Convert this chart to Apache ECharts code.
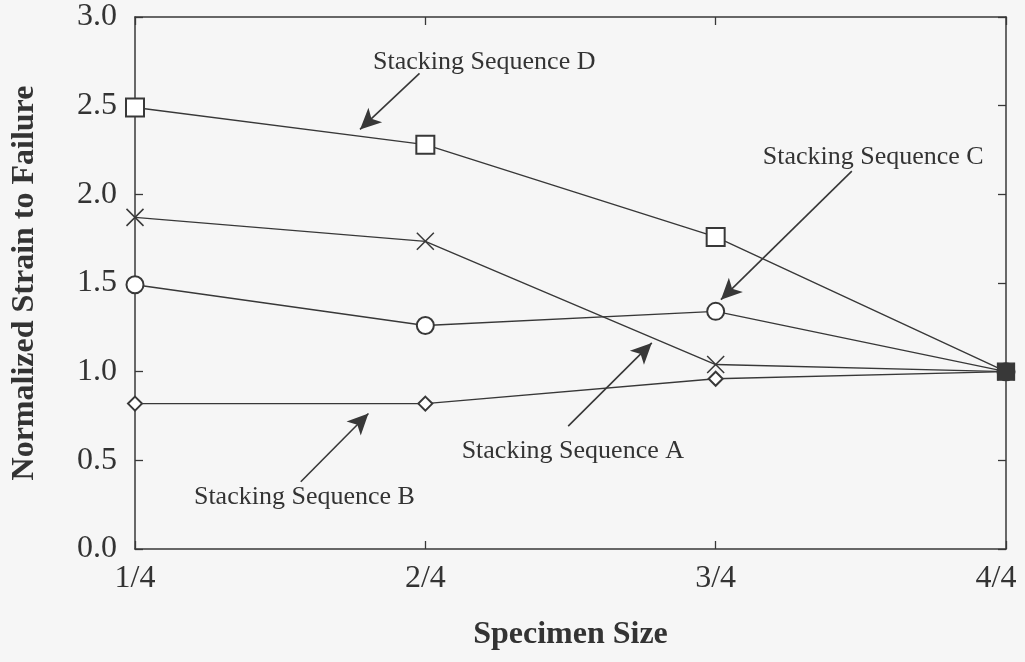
<!DOCTYPE html>
<html>
<head>
<meta charset="utf-8">
<script src="https://cdn.jsdelivr.net/npm/echarts@6/dist/echarts.min.js"></script>
<style>
  html, body { margin: 0; padding: 0; background: #f6f6f6; }
  #chart { width: 1025px; height: 662px; }
</style>
</head>
<body>
<div id="chart"></div>
<script>
// Specimen sizes (x positions 1..4) and their tick labels
const sizes = [1, 2, 3, 4];
const sizeLabels = ['1/4', '2/4', '3/4', '4/4'];
const yTicks = [0, 0.5, 1.0, 1.5, 2.0, 2.5, 3.0];

// Normalized strain to failure for each stacking sequence
const seqA = [1.87, 1.735, 1.04, 1.0];
const seqB = [0.82, 0.82, 0.96, 1.0];
const seqC = [1.49, 1.26, 1.34, 1.0];
const seqD = [2.49, 2.28, 1.76, 1.0];

// Annotation labels: text anchor and arrow (from -> tip), in data units
const notes = [
  { text: 'Stacking Sequence D', at: [1.82, 2.744], from: [1.98, 2.682], to: [1.775, 2.366] },
  { text: 'Stacking Sequence C', at: [3.162, 2.208], from: [3.469, 2.131], to: [3.018, 1.406] },
  { text: 'Stacking Sequence A', at: [2.125, 0.552], from: [2.492, 0.693], to: [2.78, 1.162] },
  { text: 'Stacking Sequence B', at: [1.203, 0.293], from: [1.571, 0.379], to: [1.804, 0.764] }
];

const ink = '#383838';
const serif = '"Liberation Serif", "DejaVu Serif", serif';
const xMark = 'path://M0,0L10,10M10,0L0,10';

function pairs(vals) { return vals.map((v, i) => [sizes[i], v]); }

function lineSeries(name, vals, symbol, size, stroked) {
  return {
    name, type: 'line', data: pairs(vals),
    symbol, symbolSize: size,
    lineStyle: { color: ink, width: 1.4 },
    itemStyle: stroked
      ? { color: 'rgba(0,0,0,0)', borderColor: ink, borderWidth: 1.5 }
      : { color: ink, borderColor: ink, borderWidth: 1.3 },
    z: 3
  };
}

const chart = echarts.init(document.getElementById('chart'));

const series = [
  lineSeries('Stacking Sequence B', seqB, 'emptyDiamond', 14, false),
  lineSeries('Stacking Sequence C', seqC, 'emptyCircle', 17, false),
  lineSeries('Stacking Sequence A', seqA, xMark, 17, true),
  lineSeries('Stacking Sequence D', seqD, 'emptyRect', 18, false),
  {
    name: 'notes', type: 'line', data: [], silent: true,
    markLine: {
      silent: true, animation: false,
      symbol: ['none', 'arrow'], symbolSize: [15, 21],
      label: { show: false },
      lineStyle: { color: ink, width: 1.6, type: 'solid' },
      data: notes.map(n => [{ coord: n.from }, { coord: n.to }])
    },
    markPoint: {
      silent: true, animation: false,
      symbol: 'circle', symbolSize: 0,
      label: {
        show: true, position: [0, 0], align: 'left', verticalAlign: 'middle',
        fontFamily: serif, fontSize: 26, color: '#333',
        formatter: p => p.name
      },
      data: notes.map(n => ({ name: n.text, coord: n.at }))
    }
  }
];

// Shared end point at 4/4 drawn as a filled square
series[3].data[3] = { value: [sizes[3], seqD[3]], symbol: 'rect', symbolSize: 17, itemStyle: { color: ink } };

// Frame axes: line on every side, short ticks pointing into the plot
function frameAxis(extra) {
  return Object.assign({
    axisLine: { show: true, onZero: false, lineStyle: { color: ink, width: 1.5 } },
    axisTick: { show: true, inside: true, length: 8, lineStyle: { color: ink, width: 1.3 } },
    splitLine: { show: false }
  }, extra);
}

chart.setOption({
  backgroundColor: '#f6f6f6',
  animation: false,
  grid: { left: 135, right: 19, top: 17, bottom: 113, outerBoundsMode: 'none', containLabel: false },
  xAxis: [frameAxis({
    type: 'value', min: 1, max: 4, interval: 1, position: 'bottom',
    name: 'Specimen Size', nameLocation: 'middle', nameGap: 70,
    nameTextStyle: { fontFamily: serif, fontSize: 32, fontWeight: 'bold', color: '#333' },
    axisLabel: {
      margin: 14, fontFamily: serif, fontSize: 32, color: '#333',
      formatter: v => v === sizes[sizes.length - 1]
        ? '{last|' + sizeLabels[sizes.indexOf(v)] + '}'
        : (sizeLabels[sizes.indexOf(v)] || ''),
      rich: { last: { fontFamily: serif, fontSize: 32, color: '#333', padding: [0, 20, 0, 0] } }
    }
  }), frameAxis({
    type: 'value', min: 1, max: 4, interval: 1, position: 'top',
    axisLabel: { show: false }
  })],
  yAxis: [frameAxis({
    type: 'value', min: 0, max: 3, interval: 0.5, position: 'left',
    name: 'Normalized Strain to Failure', nameLocation: 'middle', nameGap: 94,
    nameTextStyle: { fontFamily: serif, fontSize: 32, fontWeight: 'bold', color: '#333' },
    axisLabel: {
      margin: 18, fontFamily: serif, fontSize: 32, color: '#333',
      formatter: v => yTicks.includes(v) ? v.toFixed(1) : ''
    }
  }), frameAxis({
    type: 'value', min: 0, max: 3, interval: 0.5, position: 'right',
    axisLabel: { show: false }
  })],
  series
});
</script>
</body>
</html>
